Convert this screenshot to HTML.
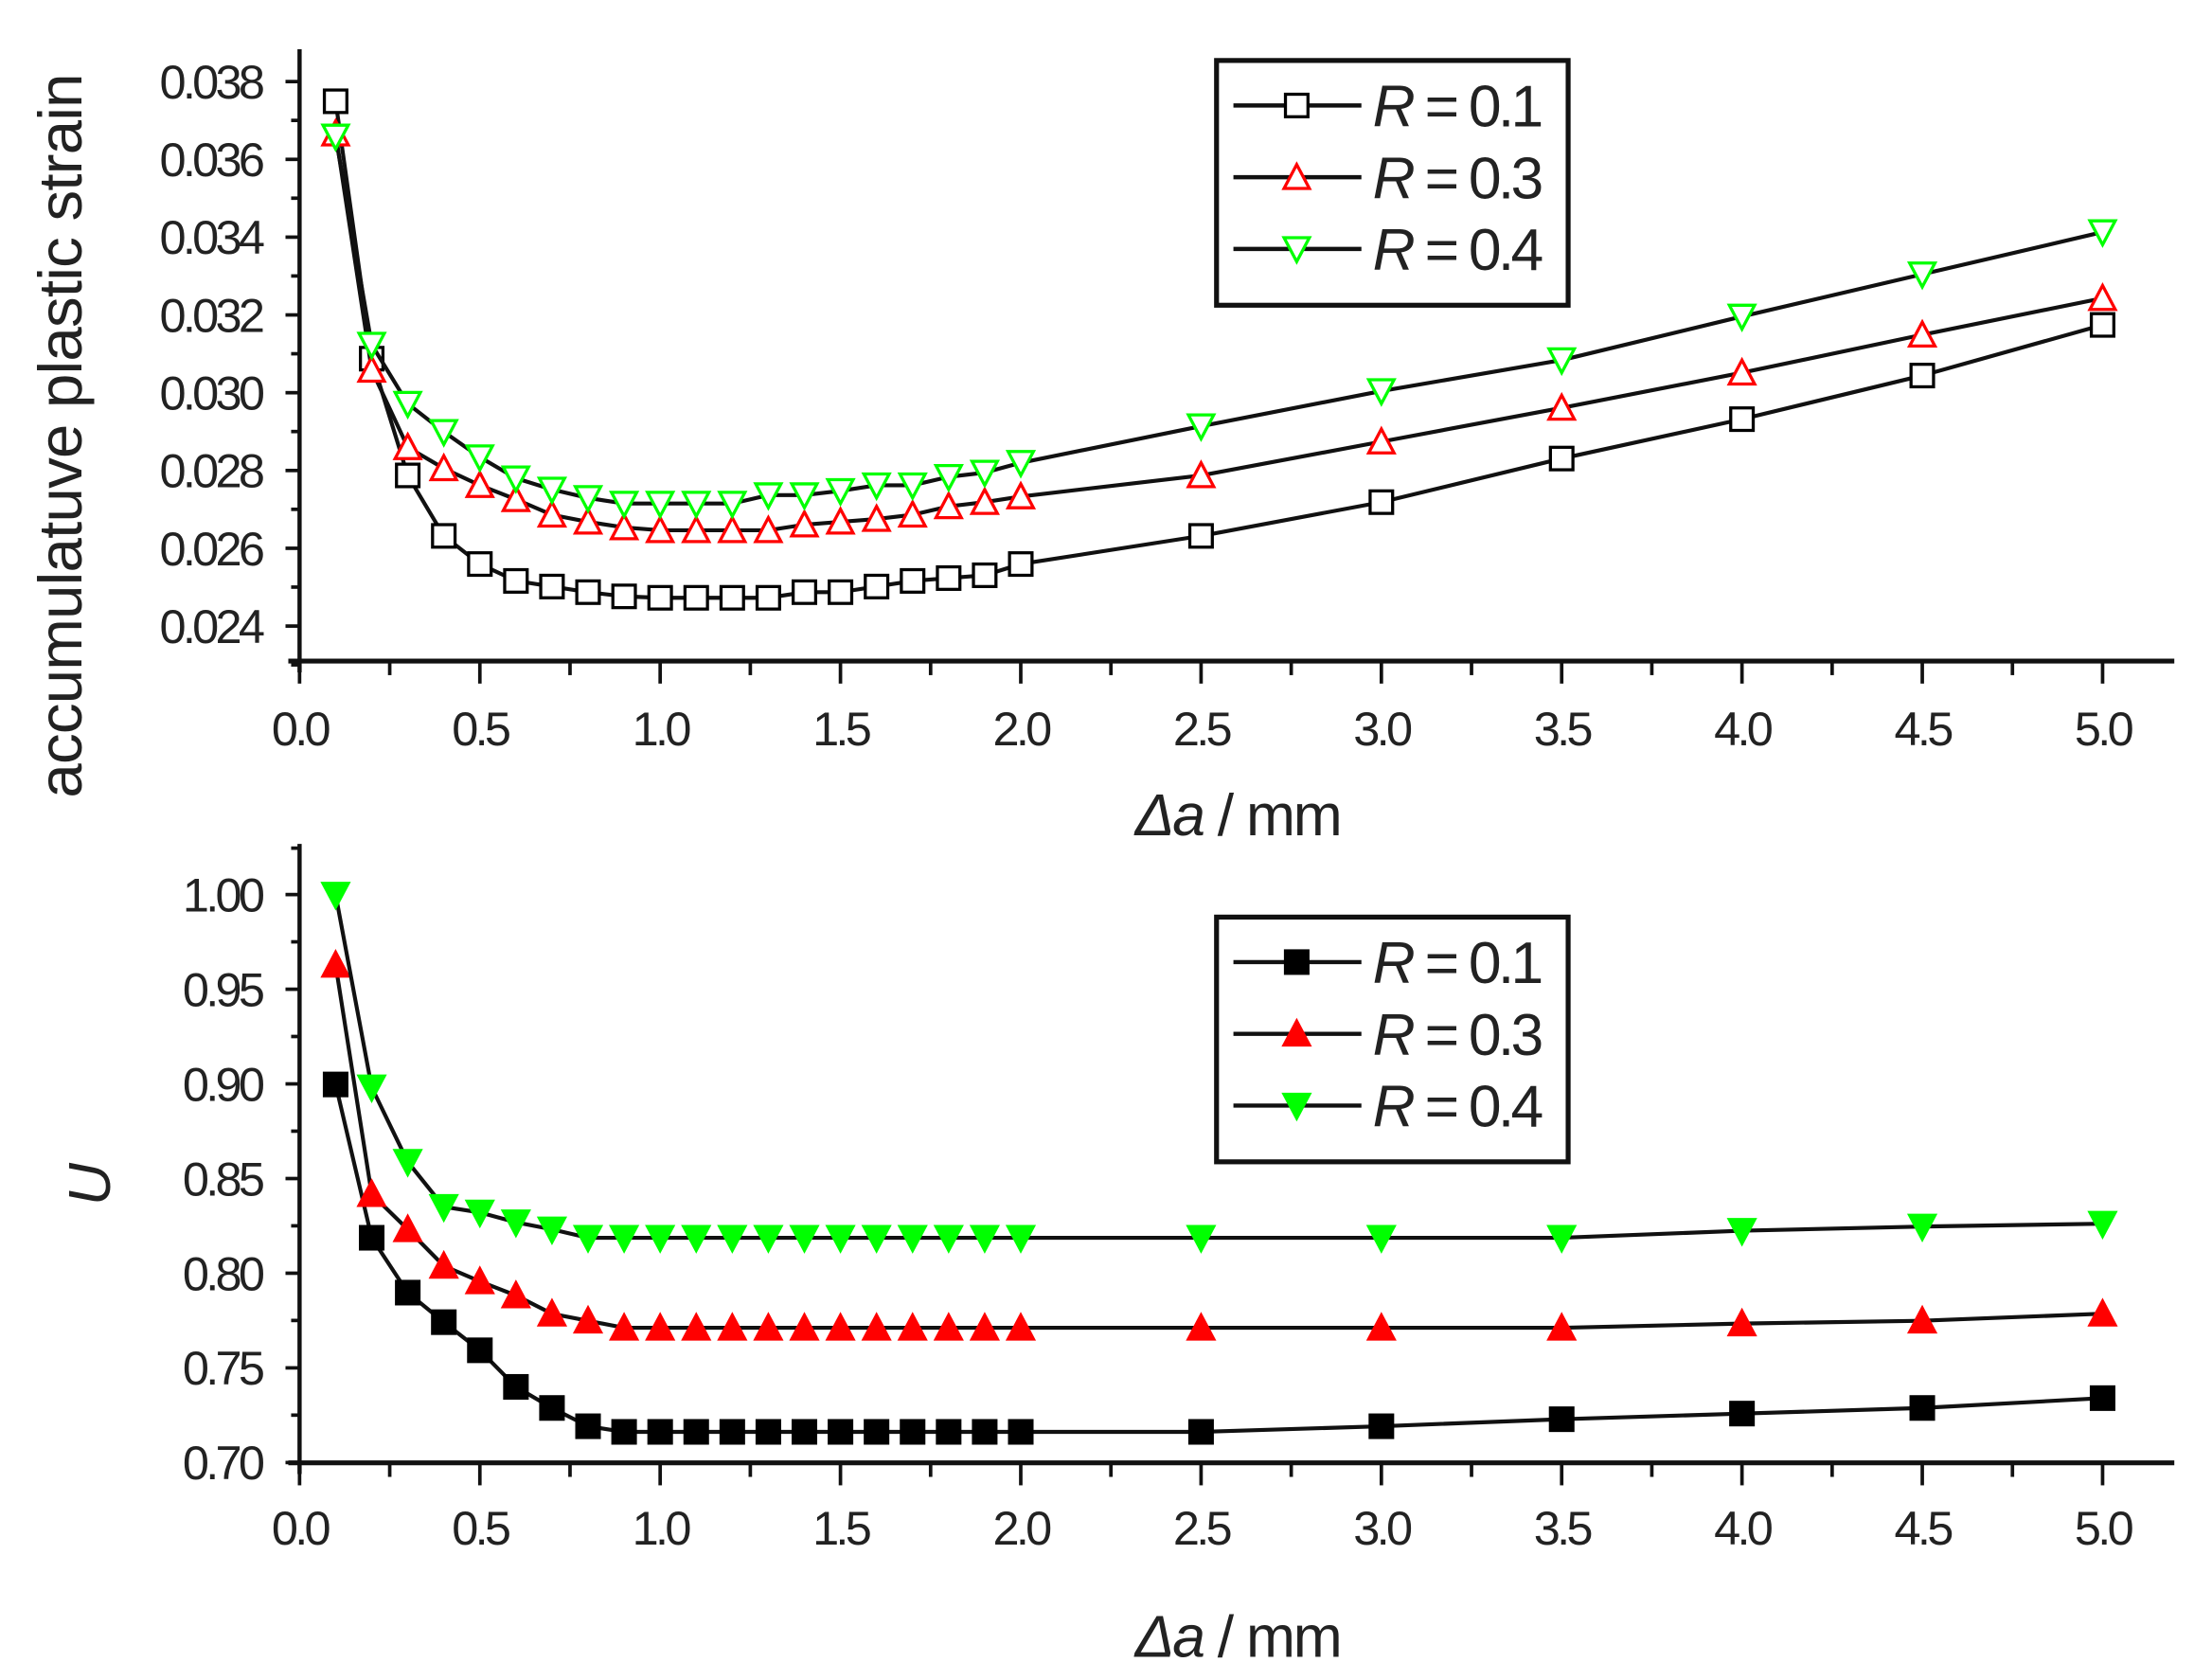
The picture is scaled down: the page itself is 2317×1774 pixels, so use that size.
<!DOCTYPE html>
<html><head><meta charset="utf-8"><style>
html,body{margin:0;padding:0;background:#fff;width:2317px;height:1774px;overflow:hidden}
svg{display:block}
text{font-family:"Liberation Sans",Arial,sans-serif;fill:#222}
</style></head><body>
<svg id="s" width="2317" height="1774" viewBox="0 0 1560 1194.4" xmlns="http://www.w3.org/2000/svg"></svg>
<script>
const s=document.getElementById('s');let h='';
const X=x=>213+x*256.4;
const xs=[0.1,0.2,0.3,0.4,0.5,0.6,0.7,0.8,0.9,1.0,1.1,1.2,1.3,1.4,1.5,1.6,1.7,1.8,1.9,2.0,2.5,3.0,3.5,4.0,4.5,5.0];
function axes(y0,yTop,yTicks,yLabels,yMinor,xlabY,titleY){
 h+=`<line x1="213" y1="${yTop}" x2="213" y2="${y0+8}" stroke="#111" stroke-width="3"/>`;
 h+=`<line x1="205" y1="${y0}" x2="1546" y2="${y0}" stroke="#111" stroke-width="3.5"/>`;
 for(let i=0;i<=20;i++){const x=X(i*0.25);const L=i%2?10:16;h+=`<line x1="${x}" y1="${y0}" x2="${x}" y2="${y0+L}" stroke="#111" stroke-width="2.5"/>`;}
 for(let i=0;i<=10;i++){h+=`<text x="${X(i*0.5)}" y="${xlabY}" font-size="34" text-anchor="middle" letter-spacing="-2.5">${(i*0.5).toFixed(1)}</text>`;}
 yTicks.forEach((y,i)=>{h+=`<line x1="203" y1="${y}" x2="213" y2="${y}" stroke="#111" stroke-width="2.5"/><text x="186" y="${y+12}" font-size="34" text-anchor="end" letter-spacing="-2.5">${yLabels[i]}</text>`;});
 yMinor.forEach(y=>{h+=`<line x1="207" y1="${y}" x2="213" y2="${y}" stroke="#111" stroke-width="2.5"/>`;});
 h+=`<text x="880" y="${titleY}" font-size="42" text-anchor="middle" letter-spacing="-1.5"><tspan font-style="italic">Δa</tspan> / mm</text>`;
}
const tT=[],tL=[],tM=[];for(let i=0;i<8;i++){tT.push(58+i*55.3);tL.push((0.038-i*0.002).toFixed(3));tM.push(58+i*55.3+27.6);}
axes(470,35,tT,tL,tM,530,594);
h+=`<text transform="translate(58,310) rotate(-90)" font-size="44" text-anchor="middle" letter-spacing="-0.5">accumulatuve plastic strain</text>`;
const bT=[],bL=[],bM=[];for(let i=0;i<7;i++){bT.push(636+i*67.3);bL.push((1-i*0.05).toFixed(2));if(i<6)bM.push(636+i*67.3+33.6);}bM.push(603);
axes(1040,600,bT,bL,bM,1098,1178);
h+=`<text transform="translate(78,842) rotate(-90)" font-size="42" font-style="italic" text-anchor="middle">U</text>`;
function mk(t,x,y,fill){
 const r=9;
 if(t=='sq')return `<rect x="${x-r+1}" y="${y-r+1}" width="${2*r-2}" height="${2*r-2}" fill="${fill?'#000':'#fff'}" stroke="#000" stroke-width="2.2"/>`;
 if(t=='up'){const c=fill?'#f00':'#fff';return `<polygon points="${x},${y-r} ${x+r},${y+r-1} ${x-r},${y+r-1}" fill="${c}" stroke="#f00" stroke-width="2.2"/>`;}
 const c=fill?'#0f0':'#fff';return `<polygon points="${x-r},${y-r+1} ${x+r},${y-r+1} ${x},${y+r}" fill="${c}" stroke="#0f0" stroke-width="2.2"/>`;
}
function series(ys,t,fill){
 h+=`<polyline fill="none" stroke="#111" stroke-width="2.8" points="${ys.map((y,i)=>X(xs[i])+','+y).join(' ')}"/>`;
 ys.forEach((y,i)=>h+=mk(t,X(xs[i]),y,fill));
}
const t1=[72,255,338,381,401,413,417,421,424,425,425,425,425,421,421,417,413,411,409,401,381,357,326,298,267,231];
const t3=[95,263,318,333,345,355,366,371,375,377,377,377,377,373,371,369,366,360,357,353,338,314,290,265,238,212];
const t4=[97,245,287,307,325,340,348,354,358,358,358,358,352,352,349,345,345,339,336,329,303,278,256,225,195,165];
series(t1,'sq',false);series(t3,'up',false);series(t4,'dn',false);
const b1=[771,880,919,940,960,986,1001,1014,1018,1018,1018,1018,1018,1018,1018,1018,1018,1018,1018,1018,1018,1014,1009,1005,1001,994];
const b3=[686,849,874,900,911,921,934,939,944,944,944,944,944,944,944,944,944,944,944,944,944,944,944,941,939,934];
const b4=[636,773,826,858,862,869,874,880,880,880,880,880,880,880,880,880,880,880,880,880,880,880,880,875,872,870];
series(b1,'sq',true);series(b3,'up',true);series(b4,'dn',true);
function legend(y0,fill){
 h+=`<rect x="865" y="${y0}" width="250" height="174" fill="#fff" stroke="#111" stroke-width="3.5"/>`;
 [['sq','0.1'],['up','0.3'],['dn','0.4']].forEach((e,i)=>{const y=y0+32+i*51;
  h+=`<line x1="877" y1="${y}" x2="968" y2="${y}" stroke="#111" stroke-width="3"/>`+mk(e[0],922,y,fill);
  h+=`<text x="976" y="${y+15}" font-size="42" letter-spacing="-2.5"><tspan font-style="italic">R</tspan> = ${e[1]}</text>`;});
}
legend(43,false);legend(652,true);
s.innerHTML=h;
</script>
</body></html>
